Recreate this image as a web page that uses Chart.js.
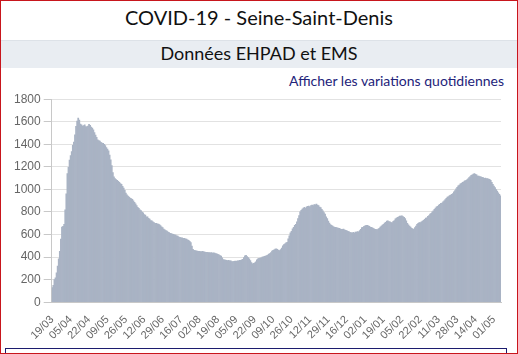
<!DOCTYPE html>
<html lang="fr">
<head>
<meta charset="utf-8">
<script src="https://cdn.jsdelivr.net/npm/chart.js@4.4.1/dist/chart.umd.min.js"></script>
<style>
    html, body { margin: 0; padding: 0; background: #fff; }
    #page {
        position: relative; box-sizing: border-box;
        width: 518px; height: 354px; overflow: hidden;
        border: 1px solid #c8161d;
    }
    #titre {
        position: absolute; left: 0; top: 4px; width: 516px;
        text-align: center; font-family: Lato, sans-serif; font-size: 20px; color: #111;
    }
    #bandeau {
        position: absolute; left: 0; top: 39px; width: 516px; height: 28px;
        background: #e9edf2; box-shadow: inset 0 1px 0 #dde2e8;
        text-align: center; font-family: Lato, sans-serif; font-size: 18px; color: #111;
        line-height: 26px;
    }
    #lien {
        position: absolute; right: 13px; top: 71px;
        font-family: Lato, sans-serif; font-size: 14px; color: #23237a;
    }
    #graphe { position: absolute; left: 0; top: 88px; width: 512px; height: 256px; }
    #suite {
        position: absolute; left: 4px; top: 347px; width: 500px; height: 20px;
        border: 1px solid #1c1c6e;
    }
</style>
</head>
<body>
<div id="page">
    <div id="titre">COVID-19 - Seine-Saint-Denis</div>
    <div id="bandeau">Données EHPAD et EMS</div>
    <div id="lien">Afficher les variations quotidiennes</div>
    <div id="graphe"><canvas id="ehpadChart"></canvas></div>
    <div id="suite"></div>
</div>

<script>
// Données : nombre de personnes hospitalisées (EHPAD et EMS), par jour depuis le 19/03/2020
const dateDebut = new Date(2020, 2, 19);
const pasEtiquettes = 17;
const etiquettesAxe = ['19/03', '05/04', '22/04', '09/05', '26/05', '12/06', '29/06', '16/07',
    '02/08', '19/08', '05/09', '22/09', '09/10', '26/10', '12/11', '29/11', '16/12',
    '02/01', '19/01', '05/02', '22/02', '11/03', '28/03', '14/04', '01/05'];
const ticksY = [0, 200, 400, 600, 800, 1000, 1200, 1400, 1600, 1800];

const valeurs = [
    130, 150, 200, 215, 260, 320, 385, 450, 560, 665,
    672, 690, 820, 960, 1140, 1195, 1260, 1300, 1335, 1390,
    1420, 1485, 1560, 1605, 1632, 1615, 1580, 1572, 1562, 1565,
    1572, 1558, 1555, 1562, 1578, 1568, 1552, 1545, 1528, 1505,
    1482, 1462, 1440, 1432, 1428, 1418, 1412, 1408, 1400, 1388,
    1372, 1358, 1342, 1305, 1262, 1212, 1150, 1112, 1096, 1088,
    1080, 1072, 1064, 1052, 1046, 1028, 1012, 992, 968, 952,
    942, 932, 924, 918, 912, 898, 886, 872, 856, 842,
    832, 818, 812, 798, 792, 778, 772, 758, 756, 744,
    736, 724, 722, 712, 706, 700, 699, 694, 692, 688,
    680, 668, 662, 648, 642, 634, 631, 622, 618, 611,
    609, 603, 601, 597, 596, 589, 586, 577, 576, 571,
    571, 567, 566, 561, 560, 554, 549, 540, 528, 498,
    468, 461, 457, 456, 454, 452, 451, 449, 448, 451,
    446, 445, 442, 443, 439, 441, 437, 439, 436, 437,
    436, 431, 429, 424, 421, 414, 408, 393, 379, 376,
    374, 372, 369, 371, 367, 366, 361, 360, 363, 364,
    362, 366, 367, 371, 372, 376, 381, 396, 411, 416,
    404, 396, 384, 368, 351, 340, 344, 349, 359, 376,
    384, 389, 391, 394, 401, 402, 406, 409, 413, 418,
    426, 431, 441, 454, 461, 465, 471, 473, 469, 461,
    458, 466, 481, 499, 511, 517, 526, 531, 562, 589,
    616, 629, 651, 664, 681, 691, 712, 741, 769, 801,
    814, 826, 834, 842, 833, 846, 849, 853, 846, 856,
    861, 857, 866, 864, 871, 861, 856, 843, 839, 824,
    811, 794, 781, 758, 741, 719, 701, 689, 681, 674,
    669, 664, 663, 659, 657, 654, 651, 647, 646, 649,
    641, 637, 634, 629, 626, 619, 618, 614, 619, 614,
    621, 621, 626, 623, 636, 647, 661, 664, 673, 677,
    681, 682, 677, 673, 664, 663, 657, 653, 647, 646,
    641, 649, 654, 666, 674, 683, 691, 701, 709, 719,
    721, 714, 713, 707, 706, 716, 724, 739, 747, 753,
    757, 763, 764, 766, 759, 753, 741, 721, 699, 686,
    674, 666, 654, 651, 646, 661, 674, 691, 699, 706,
    707, 713, 719, 726, 734, 746, 749, 761, 769, 781,
    789, 801, 811, 823, 834, 846, 851, 861, 867, 876,
    879, 891, 899, 911, 921, 931, 937, 946, 949, 956,
    964, 979, 989, 1006, 1019, 1031, 1039, 1049, 1054, 1063,
    1067, 1076, 1079, 1086, 1094, 1106, 1114, 1126, 1129, 1136,
    1141, 1134, 1129, 1119, 1118, 1113, 1112, 1107, 1106, 1099,
    1101, 1097, 1096, 1091, 1089, 1081, 1064, 1046, 1029, 1016,
    999, 986, 969, 956, 944
];

// Une catégorie par jour (jj/mm)
function construireDates(n) {
    const dates = [];
    for (let i = 0; i < n; i++) {
        const d = new Date(dateDebut.getFullYear(), dateDebut.getMonth(), dateDebut.getDate() + i);
        dates.push(String(d.getDate()).padStart(2, '0') + '/' + String(d.getMonth() + 1).padStart(2, '0'));
    }
    return dates;
}

const categories = construireDates(valeurs.length);

document.addEventListener('DOMContentLoaded', function() {
    const ctx = document.getElementById('ehpadChart').getContext('2d');
    window.ehpadChart = new Chart(ctx, {
        type: 'bar',
        data: {
            labels: categories,
            datasets: [{
                label: 'EHPAD et EMS',
                data: valeurs,
                backgroundColor: '#a9b3c4',
                borderWidth: 0,
                barPercentage: 1,
                categoryPercentage: 1
            }]
        },
        options: {
            responsive: true,
            maintainAspectRatio: false,
            animation: false,
            layout: { padding: { left: 10, right: 12, top: 4, bottom: 0 } },
            plugins: {
                legend: { display: false },
                tooltip: { enabled: false }
            },
            scales: {
                x: {
                    grid: { display: false },
                    border: { color: '#c8c8c8' },
                    ticks: {
                        autoSkip: false,
                        minRotation: 45,
                        maxRotation: 45,
                        color: '#666',
                        font: { family: 'Liberation Sans', size: 11 },
                        callback: function(value, index) {
                            if (index % pasEtiquettes !== 0) return null;
                            return etiquettesAxe[index / pasEtiquettes] || null;
                        }
                    }
                },
                y: {
                    min: 0,
                    max: 1800,
                    afterBuildTicks: function(axis) {
                        axis.ticks = ticksY.map(v => ({ value: v }));
                    },
                    grid: { color: '#e2e2e2', tickColor: '#c8c8c8' },
                    border: { color: '#c8c8c8' },
                    ticks: {
                        color: '#666',
                        font: { family: 'Liberation Sans', size: 12 },
                        callback: function(value) {
                            return String(value);
                        }
                    }
                }
            }
        }
    });
});
</script>
</body>
</html>
